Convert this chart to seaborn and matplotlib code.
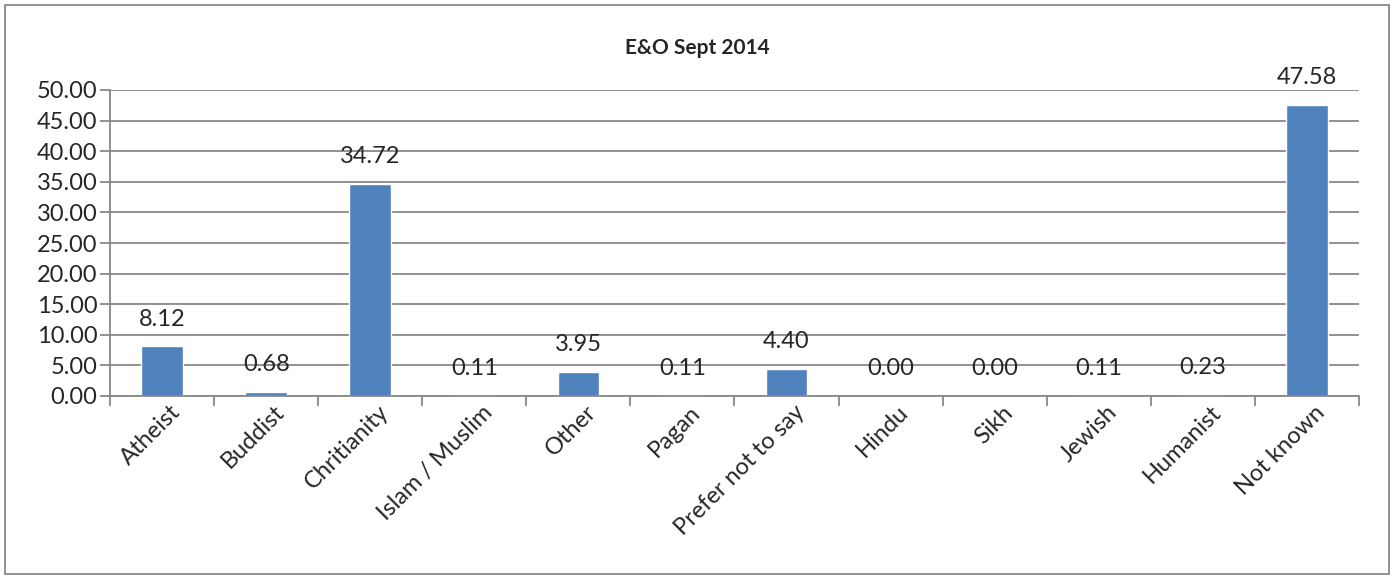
import numpy as np
import pandas as pd
import seaborn as sns
import matplotlib.pyplot as plt
from matplotlib.patches import Rectangle

# Data
categories = ['Atheist', 'Buddist', 'Chritianity', 'Islam / Muslim', 'Other', 'Pagan',
              'Prefer not to say', 'Hindu', 'Sikh', 'Jewish', 'Humanist', 'Not known']
values = [8.12, 0.68, 34.72, 0.11, 3.95, 0.11, 4.40, 0.00, 0.00, 0.11, 0.23, 47.58]
title = 'E&O Sept 2014'

dataFrame = pd.DataFrame({'category': categories, 'value': values})

sns.set_style('white')
plt.rcParams['font.family'] = ['Lato', 'DejaVu Sans']

fig = plt.figure(figsize=(13.94, 5.79), dpi=100)
ax = fig.add_axes([110 / 1394, 1 - 396 / 579, 1249 / 1394, 306 / 579])

sns.barplot(x='category', y='value', data=dataFrame, color='#4F81BD',
            saturation=1, width=0.4, ax=ax)

fs = 17

ax.set_ylim(0, 50)
ax.set_xlim(-0.5, len(categories) - 0.5)
ax.set_yticks(np.arange(0, 50.1, 5))
ax.set_yticklabels(['%.2f' % t for t in np.arange(0, 50.1, 5)], fontsize=fs)
ax.yaxis.grid(True, color='#888888', linewidth=1.3)
ax.set_axisbelow(True)

# category boundaries carry the tick marks, labels sit just right of the centres
ax.set_xticks(np.arange(-0.5, len(categories), 1))
ax.set_xticklabels([])
ax.set_xticks(np.arange(len(categories)) + 0.07, minor=True)
ax.set_xticklabels(categories, minor=True, rotation=45, ha='right',
                   rotation_mode='anchor', fontsize=fs)
ax.tick_params(axis='x', which='major', direction='out', length=7, width=1.3,
               color='#888888', bottom=True)
ax.tick_params(axis='x', which='minor', length=0, pad=4)
ax.tick_params(axis='y', direction='out', length=7, width=1.3,
               color='#888888', left=True, pad=2)

for s in ['top', 'right']:
    ax.spines[s].set_visible(False)
for s in ['left', 'bottom']:
    ax.spines[s].set_color('#888888')
    ax.spines[s].set_linewidth(1.3)

ax.set_xlabel('')
ax.set_ylabel('')

for i, v in enumerate(values):
    ax.annotate('%.2f' % v, (i, v), xytext=(0, 12), textcoords='offset points',
                ha='center', va='bottom', fontsize=fs)

fig.text(0.5, 1 - 48 / 579, title, ha='center', va='center',
         fontsize=15, fontweight='bold')

fig.patches.append(Rectangle((5 / 1394, 5 / 579), 1384 / 1394, 569 / 579,
                             transform=fig.transFigure, fill=False,
                             edgecolor='#888888', linewidth=1.3))

plt.savefig('out.png', dpi=100)
